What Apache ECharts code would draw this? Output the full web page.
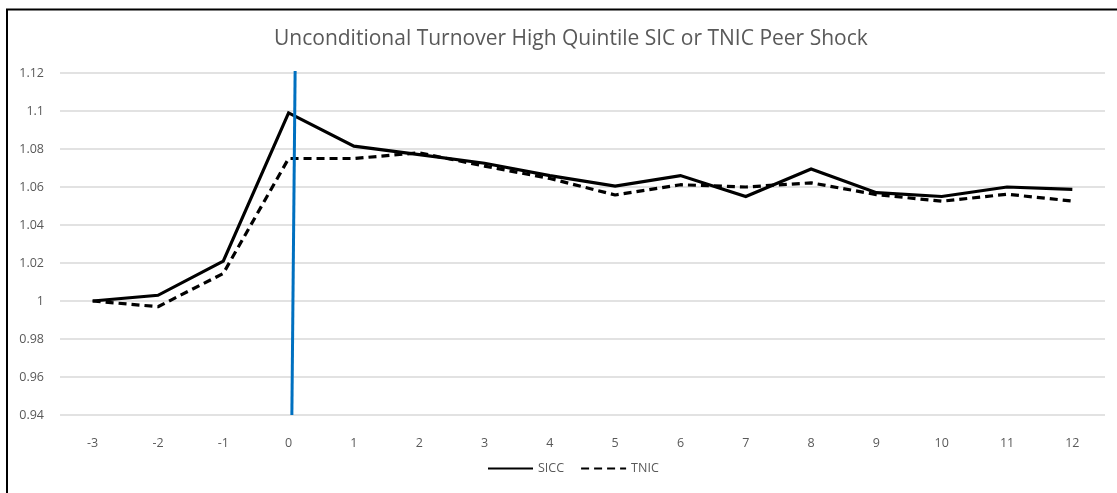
<!DOCTYPE html>
<html><head><meta charset="utf-8">
<script src="https://cdn.jsdelivr.net/npm/echarts@6/dist/echarts.min.js"></script>
<style>html,body{margin:0;padding:0;background:#fff}#c{width:1117px;height:493px}</style>
</head><body><div id="c"></div>
<script>
const categories = ['-3','-2','-1','0','1','2','3','4','5','6','7','8','9','10','11','12'];
const sicc = [1.000,1.003,1.021,1.099,1.0815,1.077,1.0725,1.066,1.0605,1.066,1.055,1.0695,1.057,1.055,1.060,1.0588];
const tnic = [1.000,0.997,1.0145,1.075,1.075,1.078,1.071,1.0645,1.0558,1.0612,1.0600,1.0622,1.056,1.0525,1.0562,1.0526];
const eventLine = [[0.05,0.94],[0.1,1.121]];
const yTicks = {min:0.94, max:1.12, interval:0.02};

const chart = echarts.init(document.getElementById('c'));
const txt = '#595959';
const font = '"Open Sans", "Liberation Sans", sans-serif';
chart.setOption({
  animation:false,
  textStyle:{fontFamily:font},
  title:{text:'Unconditional Turnover High Quintile SIC or TNIC Peer Shock',left:269,top:24,
    textStyle:{color:txt,fontSize:21,fontWeight:'normal',fontFamily:font}},
  grid:{left:60,right:12,top:73,bottom:78},
  legend:{bottom:13,left:482,itemWidth:45,itemHeight:10,itemGap:16,
    itemStyle:{color:'rgba(0,0,0,0)',borderWidth:0,opacity:0},
    textStyle:{color:txt,fontSize:12.5,fontFamily:font},
    data:['SICC','TNIC']},
  xAxis:[{type:'category',data:categories,boundaryGap:true,
      axisLine:{show:false},axisTick:{show:false},
      axisLabel:{color:txt,fontSize:12.5,margin:22,fontFamily:font}},
    {type:'value',min:-3.5,max:12.5,show:false,position:'bottom'}],
  yAxis:{type:'value',min:yTicks.min,max:yTicks.max,interval:yTicks.interval,
    axisLine:{show:false},axisTick:{show:false},
    axisLabel:{color:txt,fontSize:12.5,margin:16,fontFamily:font,formatter:v=>String(+v.toFixed(2))},
    splitLine:{lineStyle:{color:'#d9d9d9',width:1.5}}},
  series:[
    {name:'SICC',type:'line',data:sicc,xAxisIndex:0,symbol:'none',z:3,
      lineStyle:{color:'#000',width:3.2,join:'miter'},itemStyle:{color:'#000'}},
    {name:'TNIC',type:'line',data:tnic,xAxisIndex:0,symbol:'none',z:3,
      lineStyle:{color:'#000',width:3.2,type:[8,5]},itemStyle:{color:'#000'}},
    {name:'event',type:'line',data:eventLine,xAxisIndex:1,symbol:'none',clip:false,z:4,
      lineStyle:{color:'#0070c0',width:3},silent:true}
  ],
  graphic:[
    {type:'line',shape:{x1:6,y1:9.5,x2:1117,y2:9.5},style:{stroke:'#000',lineWidth:2}},
    {type:'line',shape:{x1:7,y1:9,x2:7,y2:493},style:{stroke:'#000',lineWidth:2}}
  ]
});
</script></body></html>
